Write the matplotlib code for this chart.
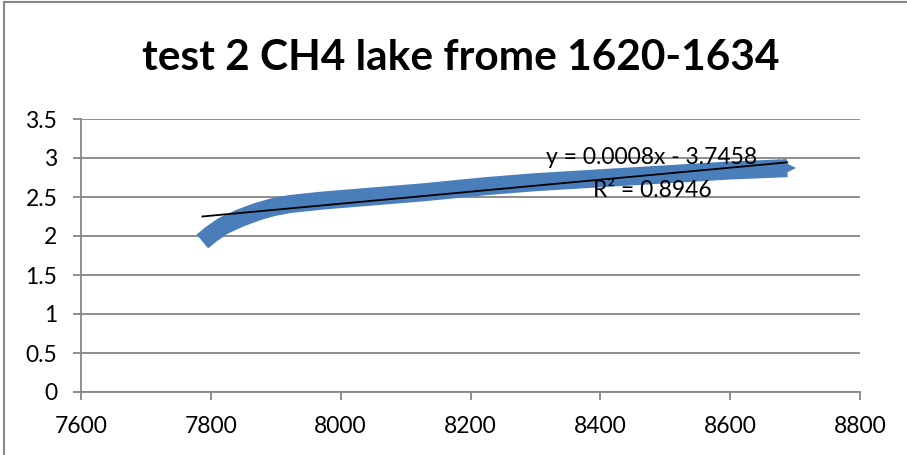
import matplotlib
matplotlib.use("Agg")
import matplotlib.pyplot as plt
from matplotlib.lines import Line2D

# ---- data ----
x_vals = [7787, 7800, 7819, 7845, 7871, 7896, 7922, 7973, 8025, 8127, 8225,
          8300, 8400, 8500, 8600, 8688]
y_vals = [1.93, 2.02, 2.13, 2.23, 2.31, 2.37, 2.41, 2.455, 2.49, 2.56, 2.64,
          2.69, 2.74, 2.79, 2.84, 2.87]
trend_slope = 0.00077
trend_intercept = -3.7458
title = "test 2 CH4 lake frome 1620-1634"
eq_text = "y = 0.0008x - 3.7458"
r2_text = "R\u00b2 = 0.8946"
x_ticks = [7600, 7800, 8000, 8200, 8400, 8600, 8800]
y_ticks = [0, 0.5, 1, 1.5, 2, 2.5, 3, 3.5]

plt.rcParams['font.family'] = ['Lato', 'DejaVu Sans']
W, H = 907, 455
fig = plt.figure(figsize=(W / 100, H / 100), dpi=100)
ax = fig.add_axes([81 / W, 63 / H, (860 - 81) / W, (392 - 119) / H])

grid_c = '#868686'
ax.set_xlim(7600, 8800)
ax.set_ylim(0, 3.5)
ax.set_xticks(x_ticks)
ax.set_yticks(y_ticks)
ax.set_xticklabels([str(v) for v in x_ticks])
ax.set_yticklabels([f"{v:g}" for v in y_ticks])
ax.yaxis.grid(True, color=grid_c, linewidth=1.3)
ax.set_axisbelow(True)
for s in ['top', 'right']:
    ax.spines[s].set_visible(False)
for s in ['left', 'bottom']:
    ax.spines[s].set_color(grid_c)
    ax.spines[s].set_linewidth(1.3)
ax.tick_params(axis='both', direction='out', length=6, width=1.3, color=grid_c,
               labelsize=16.5, pad=11, labelcolor='black')

ax.plot(x_vals, y_vals, color='#4A7EBB', linewidth=13,
        solid_capstyle='butt', solid_joinstyle='round', zorder=3)
ax.plot(x_vals[-1:], y_vals[-1:], marker='>', markersize=13, color='#4A7EBB',
        markeredgewidth=0, linestyle='none', zorder=3)

tx = [min(x_vals), max(x_vals)]
ty = [trend_slope * v + trend_intercept for v in tx]
ax.plot(tx, ty, color='black', linewidth=1.3, zorder=4)

fig.text(652 / W, 1 - 157 / H, eq_text, ha='center', va='center', fontsize=16.5, zorder=5)
fig.text(652 / W, 1 - 190 / H, r2_text, ha='center', va='center', fontsize=16.5, zorder=5)

fig.text(461 / W, 1 - 58 / H, title, ha='center', va='center', fontsize=30.5,
         fontweight='bold')

border_c = '#878787'
fig.add_artist(Line2D([4 / W, 1], [1 - 1.5 / H, 1 - 1.5 / H], color=border_c, linewidth=1.5))
fig.add_artist(Line2D([4 / W, 4 / W], [0, 1 - 1.5 / H], color=border_c, linewidth=1.5))

fig.savefig('out.png', dpi=100)
